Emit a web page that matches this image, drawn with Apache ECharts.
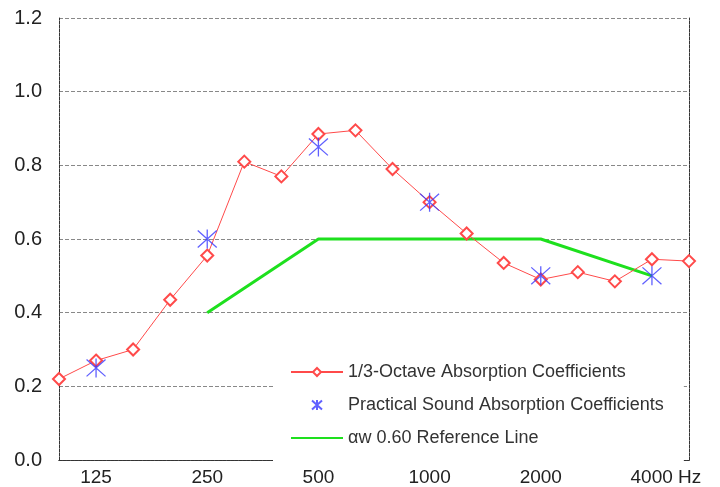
<!DOCTYPE html>
<html>
<head>
<meta charset="utf-8">
<script src="https://cdn.jsdelivr.net/npm/echarts@6/dist/echarts.min.js"></script>
<style>
  html, body { margin: 0; padding: 0; background: #fff; }
  #chart { width: 720px; height: 487px; }
</style>
</head>
<body>
<div id="chart"></div>
<script>
// 1/3-octave band centre frequencies (Hz)
var freqs = ['100', '125', '160', '200', '250', '315', '400', '500', '630',
  '800', '1000', '1250', '1600', '2000', '2500', '3150', '4000', '5000']
// labelled octave bands
var tickFreqs = ['125', '250', '500', '1000', '2000', '4000']
var yTicks = [0, 0.2, 0.4, 0.6, 0.8, 1.0, 1.2]

var thirdOctave = [0.22, 0.27, 0.30, 0.435, 0.555, 0.81, 0.77, 0.885, 0.895,
  0.79, 0.70, 0.615, 0.535, 0.49, 0.51, 0.485, 0.545, 0.54]
var practical = [null, 0.25, null, null, 0.60, null, null, 0.85, null,
  null, 0.70, null, null, 0.50, null, null, 0.50, null]
var reference = [null, null, null, null, 0.40, null, null, 0.60, null,
  null, 0.60, null, null, 0.60, null, null, 0.50, null]

var names = [
  '1/3-Octave Absorption Coefficients',
  'Practical Sound Absorption Coefficients',
  'αw 0.60 Reference Line'
]

var font = 'Arial, "Liberation Sans", sans-serif'
var border = { show: true, lineStyle: { color: '#333', width: 1, type: [3, 1] } }
var starPath = 'path://M9,0 L9,18 M0,1 L18,17 M0,17 L18,1'

var chart = echarts.init(document.getElementById('chart'))
chart.setOption({
  animation: false,
  textStyle: { fontFamily: font },
  grid: { left: 59, right: 31, top: 18, bottom: 26 },
  legend: {
    orient: 'vertical',
    left: 273,
    top: 352,
    padding: [11, 20, 14, 17],
    backgroundColor: '#fff',
    itemWidth: 52,
    itemHeight: 10,
    itemGap: 15,
    textStyle: { fontSize: 18, color: '#333', fontFamily: font },
    data: [
      { name: names[0] },
      { name: names[1] },
      { name: names[2], itemStyle: { opacity: 0 } }
    ]
  },
  xAxis: [
    {
      type: 'category',
      data: freqs,
      boundaryGap: false,
      axisLine: border,
      axisTick: { show: false },
      axisLabel: {
        fontSize: 19,
        color: '#222',
        margin: 8,
        interval: function (idx, val) { return tickFreqs.indexOf(val) >= 0 },
        formatter: function (val) {
          return val === '4000' ? '{p| }4000 Hz' : val
        },
        rich: { p: { width: 28 } }
      },
      splitLine: { show: false }
    },
    {
      type: 'category',
      data: freqs,
      boundaryGap: false,
      position: 'top',
      axisLine: border,
      axisTick: { show: false },
      axisLabel: { show: false }
    }
  ],
  yAxis: [
    {
      type: 'value',
      min: yTicks[0],
      max: yTicks[yTicks.length - 1],
      interval: 0.2,
      axisLine: border,
      axisTick: { show: false },
      axisLabel: {
        fontSize: 20,
        color: '#222',
        margin: 17,
        formatter: function (v) { return v.toFixed(1) }
      },
      splitLine: { show: true, lineStyle: { color: '#888', width: 1, type: [4, 2] } }
    },
    {
      type: 'value',
      position: 'right',
      min: yTicks[0],
      max: yTicks[yTicks.length - 1],
      interval: 0.2,
      axisLine: border,
      axisTick: { show: false },
      axisLabel: { show: false },
      splitLine: { show: false }
    }
  ],
  series: [
    {
      name: names[2],
      type: 'line',
      data: reference,
      connectNulls: true,
      symbol: 'none',
      lineStyle: { color: '#1ee01e', width: 3 },
      itemStyle: { color: '#1ee01e' },
      z: 2
    },
    {
      name: names[0],
      type: 'line',
      data: thirdOctave,
      symbol: 'emptyDiamond',
      symbolSize: 12,
      lineStyle: { color: '#ff4a4a', width: 1 },
      itemStyle: { color: '#ff4a4a', borderColor: '#ff4a4a', borderWidth: 1 },
      z: 3
    },
    {
      name: names[1],
      type: 'scatter',
      data: practical,
      symbol: starPath,
      symbolSize: 19,
      itemStyle: { color: '#3838ff', borderColor: '#3838ff', borderWidth: 1.3 },
      z: 4
    }
  ]
})
</script>
</body>
</html>
